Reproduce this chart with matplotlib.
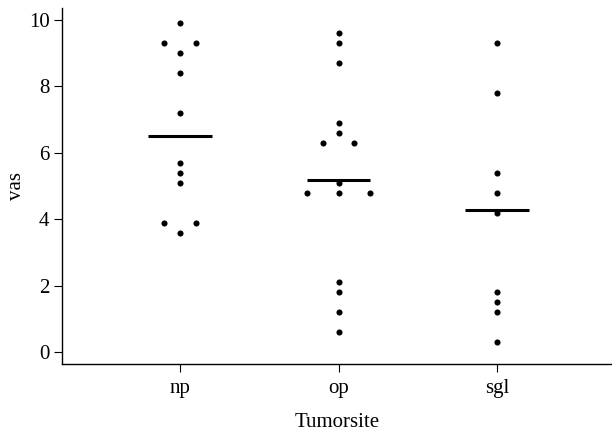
import numpy as np
import matplotlib
matplotlib.use("Agg")
import matplotlib.pyplot as plt

# vas scores by tumour site
sites = ["np", "op", "sgl"]
vas_np = [9.9, 9.3, 9.3, 9.0, 8.4, 7.2, 5.7, 5.4, 5.1, 3.9, 3.9, 3.6]
vas_op = [9.6, 9.3, 8.7, 6.9, 6.6, 6.3, 6.3, 5.1, 4.8, 4.8, 4.8, 2.1, 1.8, 1.2, 0.6]
vas_sgl = [9.3, 7.8, 5.4, 4.8, 4.2, 1.8, 1.5, 1.2, 0.3]
median_lines = [6.52, 5.17, 4.27]
y_ticks = [0, 2, 4, 6, 8, 10]

plt.rcParams["font.family"] = ["Liberation Serif", "DejaVu Serif"]
plt.rcParams["font.size"] = 15

fig = plt.figure(figsize=(6.12, 4.32), dpi=100)
ax = fig.add_axes([0.1013, 0.158, 0.8987, 0.8235])

spacing = 0.2
for i, vals in enumerate([vas_np, vas_op, vas_sgl]):
    xc = i + 1
    vals = np.array(vals)
    for v in np.unique(vals):
        n = np.sum(vals == v)
        xs = xc + (np.arange(n) - (n - 1) / 2) * spacing
        ax.plot(xs, [v] * n, "o", color="black", markersize=4.4, markeredgewidth=0)
    ax.plot([xc - 0.2, xc + 0.2], [median_lines[i]] * 2, color="black", lw=2.2,
            solid_capstyle="butt")

ax.set_xlim(0.255, 3.725)
ax.set_ylim(-0.35, 10.36)
ax.set_xticks([1, 2, 3])
ax.set_xticklabels(sites)
ax.set_yticks(y_ticks)
ax.set_xlabel("Tumorsite", labelpad=11)
ax.set_ylabel("vas", labelpad=2)

for s in ["top", "right"]:
    ax.spines[s].set_visible(False)
for s in ["left", "bottom"]:
    ax.spines[s].set_linewidth(1.0)
ax.tick_params(direction="out", length=5.5, width=0.8)
ax.tick_params(axis="x", pad=5.5)
ax.tick_params(axis="y", pad=3.5)

fig.savefig("out.png", dpi=100)
